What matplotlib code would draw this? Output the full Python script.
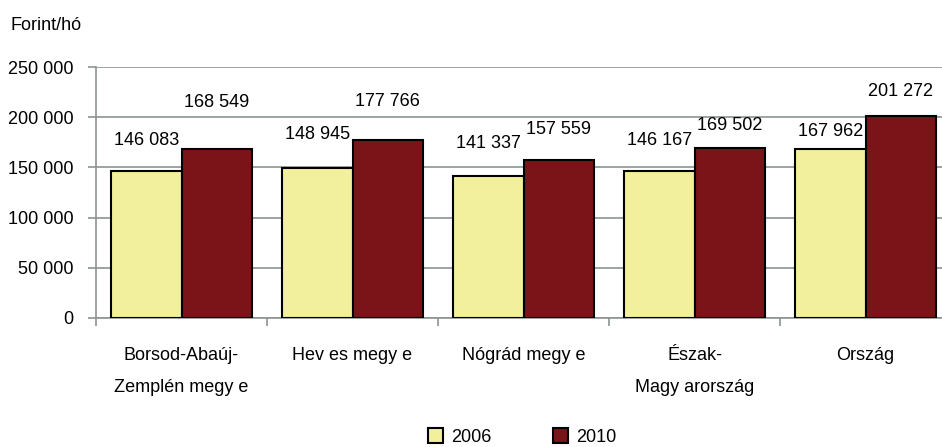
import matplotlib
matplotlib.use("Agg")
import matplotlib.pyplot as plt
import numpy as np

categories = ["Borsod-Abaúj-\nZemplén megy e", "Hev es megy e", "Nógrád megy e",
              "Észak-\nMagy arország", "Ország"]
series_names = ["2006", "2010"]
values_2006 = [146083, 148945, 141337, 146167, 167962]
values_2010 = [168549, 177766, 157559, 169502, 201272]
yticks = [0, 50000, 100000, 150000, 200000, 250000]
ytick_labels = ["0", "50 000", "100 000", "150 000", "200 000", "250 000"]
y_unit = "Forint/hó"

# label offsets (pixels above bar top), layout only
off_2006 = [31, 34, 33, 31, 18]
off_2010 = [46, 38, 30, 22, 24]

c2006 = "#F3F09D"
c2010 = "#7A1418"
grid_c = "#8C9494"

plt.rcParams['font.family'] = ['Liberation Sans', 'DejaVu Sans']
FS = 13

fig = plt.figure(figsize=(9.42, 4.47), dpi=100)
ax = fig.add_axes([96/942, 129/447, 855/942, 251/447])

x = np.arange(len(categories))
w = 0.41
b1 = ax.bar(x - w/2, values_2006, w, color=c2006, edgecolor="black", linewidth=1.5, label=series_names[0], zorder=3)
b2 = ax.bar(x + w/2, values_2010, w, color=c2010, edgecolor="black", linewidth=1.5, label=series_names[1], zorder=3)

def fmt(v):
    return f"{v:,}".replace(",", " ")

for xi, v, o in zip(x - w/2, values_2006, off_2006):
    ax.annotate(fmt(v), (xi, v), xytext=(0, o), textcoords="offset pixels",
                ha="center", va="center", fontsize=FS)
for xi, v, o in zip(x + w/2, values_2010, off_2010):
    ax.annotate(fmt(v), (xi, v), xytext=(0, o), textcoords="offset pixels",
                ha="center", va="center", fontsize=FS)

ax.set_xlim(-0.5, len(categories) - 0.5)
ax.set_ylim(0, 250000)
ax.set_yticks(yticks)
ax.set_yticklabels(ytick_labels, fontsize=FS)
ax.yaxis.grid(True, color=grid_c, linewidth=1.2, zorder=0)
ax.set_xticks(x)
ax.set_xticklabels(categories, fontsize=FS, linespacing=2.15)
ax.set_xticks(np.arange(len(categories) + 1) - 0.5, minor=True)
ax.tick_params(axis="x", which="major", length=0, pad=21)
ax.tick_params(axis="x", which="minor", length=6, color=grid_c, width=1.2)
ax.tick_params(axis="y", length=6, color=grid_c, width=1.2, pad=10)

for s in ["top", "right"]:
    ax.spines[s].set_visible(False)
for s in ["left", "bottom"]:
    ax.spines[s].set_color(grid_c)
    ax.spines[s].set_linewidth(1.2)
ax.set_axisbelow(True)

fig.text(10/942, 1 - 25/447, y_unit, fontsize=FS, ha="left", va="center")

leg = fig.legend(handles=[b1, b2], labels=series_names, loc="center",
                 bbox_to_anchor=(522/942, 1 - 437/447), ncol=2, frameon=False,
                 fontsize=FS, handlelength=0.85, handleheight=0.85,
                 columnspacing=3.4, handletextpad=0.45)

fig.savefig("out.png", dpi=100)
